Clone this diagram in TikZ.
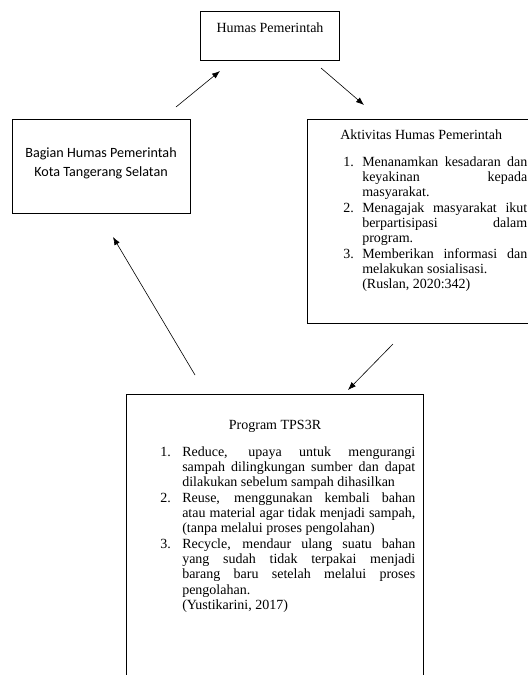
\documentclass[tikz,border=0pt]{standalone}
\usepackage{fontspec}
\setmainfont{Liberation Serif}
\newfontfamily\calibrifont{Carlito}
\usetikzlibrary{arrows.meta,fit}
\hbadness=10000
% numbered item with hanging indent
\newcommand{\numitem}[3][15pt]{\noindent\hangindent=#1\hangafter=1\hbox to #1{#2\hfil}#3\par}

\begin{document}
\begin{tikzpicture}[
  x=0.75pt, y=-0.75pt,
  box/.style={draw,line width=0.6pt,inner sep=0pt},
  txt/.style={inner sep=0pt,font=\fontsize{10.5pt}{11.5pt}\selectfont},
  lst/.style={txt,align=justify,anchor=base west},
  arr/.style={-{Latex[length=6pt,width=4.5pt]},line width=0.45pt},
]
  \path[use as bounding box,clip] (0,0) rectangle (528,675);

  % Top: Humas Pemerintah
  \node[box,fit={(200,11) (339,60)}] (humas) {};
  \node[txt,anchor=base] (humas-t) at (270,32) {Humas Pemerintah};

  % Left: Bagian Humas
  \node[box,fit={(12,119) (190,213)}] (bagian) {};
  \node[txt,font=\calibrifont\fontsize{10.6pt}{14.25pt}\selectfont,align=center,anchor=base]
    (bagian-t) at (101,176) {Bagian Humas Pemerintah\\Kota Tangerang Selatan};

  % Right: Aktivitas (runs off the page)
  \node[box,fit={(307,119) (560,323)}] (aktivitas) {};
  \node[txt,anchor=base west] (aktivitas-t) at (340,139) {Aktivitas Humas Pemerintah};
  \node[lst,text width=138pt] (aktivitas-l) at (343,166) {%
    \numitem[14.25pt]{1.}{Menanamkan kesadaran dan\linebreak keyakinan kepada\linebreak masyarakat.}%
    \numitem[14.25pt]{2.}{Menagajak masyarakat ikut\linebreak berpartisipasi dalam\linebreak program.}%
    \numitem[14.25pt]{3.}{Memberikan informasi dan\linebreak melakukan sosialisasi.\hfil\break (Ruslan, 2020:342)}};

  % Bottom: Program TPS3R (runs off the page)
  \node[box,fit={(126,394) (423,700)}] (program) {};
  \node[txt,anchor=base] (program-t) at (275,429) {Program TPS3R};
  \node[lst,text width=191.25pt] (program-l) at (160,456) {%
    \numitem[16.5pt]{1.}{Reduce, upaya untuk mengurangi\linebreak sampah dilingkungan sumber dan dapat\linebreak dilakukan sebelum sampah dihasilkan}%
    \numitem[16.5pt]{2.}{Reuse, menggunakan kembali bahan\linebreak atau material agar tidak menjadi sampah,\linebreak (tanpa melalui proses pengolahan)}%
    \numitem[16.5pt]{3.}{Recycle, mendaur ulang suatu bahan\linebreak yang sudah tidak terpakai menjadi\linebreak barang baru setelah melalui proses\linebreak pengolahan.\hfil\break (Yustikarini, 2017)}};

  % arrow ends
  \coordinate (bagian-o) at (176,107);
  \coordinate (humas-i) at (220,71);
  \coordinate (humas-o) at (321,68);
  \coordinate (aktivitas-i) at (364,105);
  \coordinate (aktivitas-o) at (393,344);
  \coordinate (program-i) at (348,390);
  \coordinate (program-o) at (195,375);
  \coordinate (bagian-i) at (113,237);

  \draw[arr] (bagian-o) -- (humas-i);
  \draw[arr] (humas-o) -- (aktivitas-i);
  \draw[arr] (aktivitas-o) -- (program-i);
  \draw[arr] (program-o) -- (bagian-i);
\end{tikzpicture}
\end{document}
